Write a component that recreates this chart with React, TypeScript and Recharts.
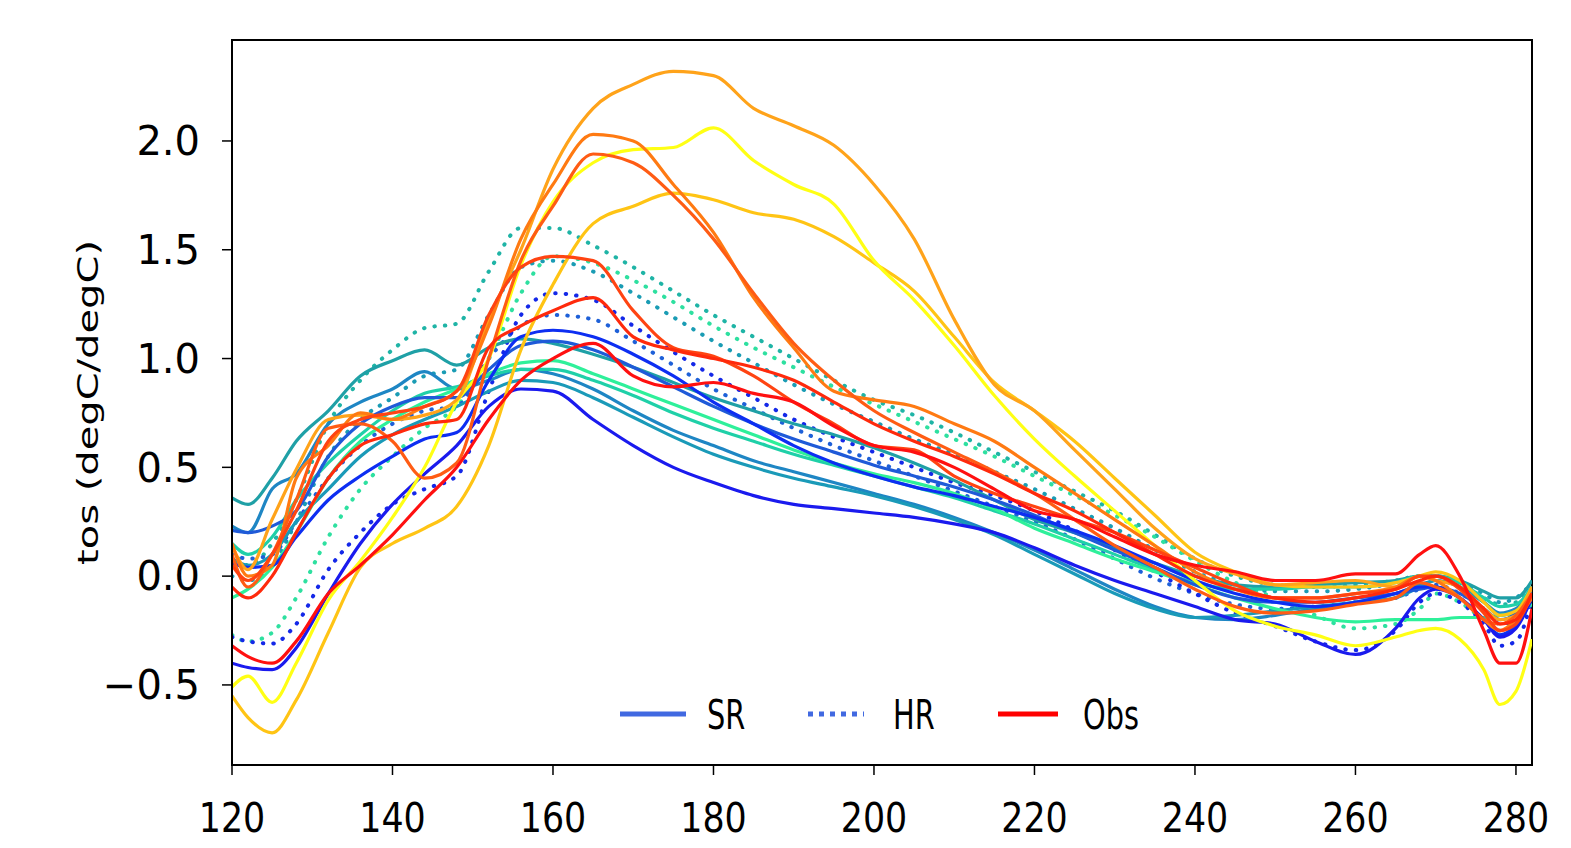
import React from 'react';
import { LineChart, Line, XAxis, YAxis, Legend, ReferenceArea } from 'recharts';

// longitude samples shared by every curve
const XS = [120, 122, 125, 128, 132, 136, 140, 144, 148, 152, 156, 160, 165, 170, 175, 180, 185, 190, 195, 200, 205, 210, 215, 220, 225, 230, 235, 240, 245, 250, 255, 260, 265, 268, 270, 273, 276, 278, 280, 282];
const X_TICKS = [120, 140, 160, 180, 200, 220, 240, 260, 280];
const Y_TICKS = [-0.5, 0, 0.5, 1, 1.5, 2];
const LEGEND_LABELS = ['SR', 'HR', 'Obs'];

// SR (solid, cool colours)
const srBlue = [-0.4, -0.42, -0.43, -0.33, -0.08, 0.15, 0.33, 0.47, 0.6, 0.78, 0.86, 0.85, 0.72, 0.6, 0.5, 0.43, 0.37, 0.33, 0.31, 0.29, 0.27, 0.24, 0.2, 0.13, 0.05, -0.02, -0.08, -0.14, -0.2, -0.22, -0.3, -0.36, -0.24, -0.1, -0.06, -0.1, -0.2, -0.28, -0.24, -0.1];
const srBlueHigh = [0.06, 0.04, 0.05, 0.18, 0.35, 0.46, 0.55, 0.63, 0.66, 0.9, 1.1, 1.13, 1.1, 1.02, 0.92, 0.8, 0.7, 0.6, 0.52, 0.46, 0.41, 0.37, 0.32, 0.27, 0.21, 0.14, 0.06, -0.02, -0.08, -0.12, -0.14, -0.12, -0.08, -0.05, -0.05, -0.1, -0.2, -0.27, -0.22, -0.08];
const srRoyal = [0.21, 0.2, 0.23, 0.3, 0.55, 0.7, 0.78, 0.82, 0.82, 0.95, 1.06, 1.08, 1.04, 0.96, 0.87, 0.78, 0.7, 0.63, 0.57, 0.51, 0.46, 0.41, 0.35, 0.28, 0.2, 0.12, 0.04, -0.04, -0.1, -0.12, -0.12, -0.1, -0.08, -0.06, -0.05, -0.08, -0.15, -0.2, -0.17, -0.06];
const srTeal = [0.36, 0.33, 0.45, 0.62, 0.76, 0.92, 0.99, 1.04, 0.97, 1.05, 1.09, 1.07, 1.02, 0.96, 0.89, 0.82, 0.76, 0.7, 0.65, 0.59, 0.52, 0.44, 0.35, 0.26, 0.2, 0.13, 0.06, 0.0, -0.04, -0.05, -0.04, -0.03, -0.02, 0.0, 0.0, -0.02, -0.07, -0.1, -0.1, -0.02];
const srTealBlue = [0.23, 0.2, 0.4, 0.47, 0.7, 0.8, 0.86, 0.94, 0.86, 0.9, 0.95, 0.93, 0.86, 0.76, 0.67, 0.6, 0.53, 0.48, 0.43, 0.38, 0.33, 0.27, 0.2, 0.12, 0.03, -0.06, -0.14, -0.19, -0.2, -0.18, -0.15, -0.12, -0.08, -0.04, -0.02, -0.05, -0.12, -0.17, -0.15, -0.05];
const srTealLow = [0.08, 0.05, 0.1, 0.25, 0.4, 0.55, 0.65, 0.72, 0.78, 0.85, 0.9, 0.89, 0.82, 0.73, 0.64, 0.56, 0.5, 0.45, 0.41, 0.37, 0.32, 0.26, 0.19, 0.1, 0.01, -0.08, -0.15, -0.19, -0.18, -0.16, -0.14, -0.12, -0.1, -0.05, -0.02, -0.05, -0.12, -0.18, -0.16, -0.05];
const srGreen = [-0.1, -0.06, 0.04, 0.2, 0.45, 0.62, 0.72, 0.8, 0.86, 0.93, 0.98, 0.99, 0.93, 0.86, 0.79, 0.72, 0.65, 0.58, 0.52, 0.47, 0.43, 0.38, 0.31, 0.22, 0.15, 0.08, 0.02, -0.04, -0.1, -0.15, -0.19, -0.21, -0.2, -0.2, -0.2, -0.19, -0.19, -0.18, -0.17, -0.13];
const srTurquoise = [0.15, 0.1, 0.18, 0.35, 0.52, 0.65, 0.76, 0.84, 0.87, 0.92, 0.95, 0.95, 0.9, 0.83, 0.75, 0.68, 0.62, 0.56, 0.51, 0.46, 0.41, 0.36, 0.3, 0.24, 0.17, 0.1, 0.03, -0.03, -0.06, -0.06, -0.05, -0.05, -0.03, 0.0, 0.0, -0.03, -0.1, -0.14, -0.13, -0.05];

// HR (dotted, cool colours)
const hrTeal = [0.12, 0.05, 0.15, 0.35, 0.7, 0.9, 1.04, 1.14, 1.16, 1.4, 1.6, 1.6, 1.52, 1.42, 1.31, 1.2, 1.1, 1.0, 0.9, 0.81, 0.74, 0.66, 0.57, 0.48, 0.39, 0.3, 0.19, 0.08, 0.0, -0.04, -0.05, -0.04, -0.02, 0.0, 0.0, -0.03, -0.1, -0.13, -0.12, -0.05];
const hrGreen = [-0.27, -0.3, -0.26, -0.1, 0.18, 0.4, 0.55, 0.68, 0.78, 1.0, 1.3, 1.47, 1.44, 1.36, 1.26, 1.15, 1.05, 0.96, 0.87, 0.79, 0.71, 0.63, 0.55, 0.46, 0.37, 0.28, 0.18, 0.07, -0.03, -0.1, -0.18, -0.24, -0.22, -0.15, -0.08, -0.12, -0.2, -0.25, -0.22, -0.12];
const hrBlue = [-0.28, -0.3, -0.31, -0.22, 0.03, 0.2, 0.33, 0.4, 0.46, 0.85, 1.2, 1.3, 1.27, 1.15, 1.03, 0.92, 0.82, 0.72, 0.64, 0.57, 0.5, 0.43, 0.37, 0.3, 0.21, 0.12, 0.02, -0.08, -0.17, -0.23, -0.3, -0.34, -0.25, -0.12, -0.08, -0.12, -0.22, -0.32, -0.3, -0.1];
const hrRoyal = [0.1, 0.08, 0.1, 0.25, 0.45, 0.6, 0.7, 0.76, 0.78, 1.0, 1.15, 1.2, 1.18, 1.08, 0.97, 0.86, 0.77, 0.68, 0.6, 0.53, 0.46, 0.39, 0.32, 0.25, 0.17, 0.08, -0.01, -0.08, -0.13, -0.15, -0.14, -0.12, -0.1, -0.06, -0.04, -0.08, -0.15, -0.22, -0.2, -0.08];
const hrTealLow = [0.0, -0.02, 0.05, 0.25, 0.55, 0.72, 0.82, 0.92, 0.95, 1.2, 1.42, 1.45, 1.4, 1.3, 1.19, 1.08, 0.98, 0.88, 0.79, 0.71, 0.63, 0.56, 0.48, 0.4, 0.31, 0.22, 0.12, 0.02, -0.04, -0.07, -0.07, -0.06, -0.03, 0.0, 0.0, -0.03, -0.08, -0.12, -0.1, -0.03];

// Obs (solid, warm colours)
const obsOrange = [0.14, 0.03, 0.26, 0.49, 0.72, 0.74, 0.72, 0.74, 0.81, 1.18, 1.5, 1.87, 2.15, 2.26, 2.32, 2.3, 2.15, 2.07, 1.98, 1.8, 1.55, 1.18, 0.88, 0.76, 0.58, 0.4, 0.22, 0.08, 0.01, -0.04, -0.03, -0.02, -0.05, 0.0, -0.02, -0.05, -0.15, -0.2, -0.18, -0.05];
const obsDarkOrange = [0.15, 0.0, 0.05, 0.45, 0.6, 0.75, 0.72, 0.78, 0.85, 1.15, 1.55, 1.8, 2.03, 2.0, 1.8, 1.58, 1.28, 1.05, 0.85, 0.81, 0.78, 0.7, 0.62, 0.5, 0.38, 0.26, 0.14, 0.02, -0.06, -0.1, -0.1, -0.08, -0.05, 0.0, -0.02, -0.1, -0.2, -0.25, -0.2, -0.1];
const obsOrangeRed = [0.1, -0.05, 0.1, 0.35, 0.68, 0.7, 0.62, 0.45, 0.52, 1.0, 1.45, 1.7, 1.94, 1.9, 1.75, 1.55, 1.3, 1.07, 0.9, 0.76, 0.66, 0.57, 0.48, 0.38, 0.26, 0.14, 0.04, -0.06, -0.14, -0.17, -0.16, -0.13, -0.1, -0.03, -0.05, -0.1, -0.2, -0.22, -0.18, -0.08];
const obsYellow = [-0.51, -0.46, -0.58, -0.4, -0.11, 0.07, 0.27, 0.5, 0.8, 1.0, 1.43, 1.72, 1.9, 1.96, 1.97, 2.06, 1.91, 1.8, 1.71, 1.45, 1.27, 1.06, 0.83, 0.63, 0.46, 0.3, 0.14, -0.02, -0.16, -0.23, -0.27, -0.32, -0.28, -0.25, -0.24, -0.29, -0.43, -0.59, -0.53, -0.29];
const obsGold = [-0.55, -0.65, -0.72, -0.57, -0.26, 0.04, 0.15, 0.22, 0.32, 0.6, 1.04, 1.34, 1.62, 1.7, 1.76, 1.73, 1.67, 1.64, 1.56, 1.44, 1.31, 1.1, 0.89, 0.76, 0.62, 0.45, 0.28, 0.11, 0.02, -0.04, -0.05, -0.05, -0.03, 0.0, 0.02, -0.02, -0.12, -0.18, -0.16, -0.05];
const obsRed = [-0.32, -0.37, -0.4, -0.3, -0.08, 0.05, 0.19, 0.35, 0.5, 0.72, 0.9, 1.0, 1.07, 0.92, 0.87, 0.89, 0.84, 0.8, 0.69, 0.6, 0.57, 0.5, 0.4, 0.3, 0.26, 0.18, 0.1, 0.05, 0.02, -0.02, -0.02, 0.01, 0.01, 0.1, 0.14, 0.0, -0.25, -0.4, -0.4, -0.15];
const obsRedOrange = [0.05, -0.02, 0.1, 0.3, 0.62, 0.72, 0.75, 0.78, 0.85, 1.2, 1.42, 1.47, 1.45, 1.22, 1.05, 1.01, 0.92, 0.8, 0.7, 0.6, 0.58, 0.46, 0.38, 0.32, 0.26, 0.2, 0.12, 0.04, -0.04, -0.1, -0.1, -0.08, -0.06, 0.0, 0.0, -0.06, -0.17, -0.25, -0.22, -0.08];
const obsCrimson = [-0.05, -0.1, 0.0, 0.2, 0.45, 0.6, 0.65, 0.7, 0.72, 1.05, 1.15, 1.22, 1.28, 1.1, 1.04, 1.0, 0.96, 0.9, 0.8, 0.7, 0.62, 0.55, 0.47, 0.38, 0.3, 0.2, 0.1, 0.0, -0.06, -0.1, -0.12, -0.1, -0.06, -0.02, 0.0, -0.05, -0.15, -0.22, -0.2, -0.08];

const SERIES = [
  { key: 'hrTeal', values: hrTeal, color: '#1fb4a6', dotted: true },
  { key: 'hrGreen', values: hrGreen, color: '#2ee0a0', dotted: true },
  { key: 'hrTealLow', values: hrTealLow, color: '#1a9cb4', dotted: true },
  { key: 'hrRoyal', values: hrRoyal, color: '#1e60d8', dotted: true },
  { key: 'hrBlue', values: hrBlue, color: '#1428e8', dotted: true },
  { key: 'srTeal', values: srTeal, color: '#1fa0a6', dotted: false },
  { key: 'srTealBlue', values: srTealBlue, color: '#1e86c4', dotted: false },
  { key: 'srTealLow', values: srTealLow, color: '#1a9ab8', dotted: false },
  { key: 'srTurquoise', values: srTurquoise, color: '#1fd0a8', dotted: false },
  { key: 'srGreen', values: srGreen, color: '#2ef09a', dotted: false },
  { key: 'srRoyal', values: srRoyal, color: '#1f5ad8', dotted: false },
  { key: 'srBlueHigh', values: srBlueHigh, color: '#0d2ef2', dotted: false },
  { key: 'srBlue', values: srBlue, color: '#1a1aee', dotted: false },
  { key: 'obsGold', values: obsGold, color: '#ffc414', dotted: false },
  { key: 'obsYellow', values: obsYellow, color: '#ffff14', dotted: false },
  { key: 'obsOrange', values: obsOrange, color: '#ffa31a', dotted: false },
  { key: 'obsDarkOrange', values: obsDarkOrange, color: '#ff7a12', dotted: false },
  { key: 'obsOrangeRed', values: obsOrangeRed, color: '#ff5c14', dotted: false },
  { key: 'obsRedOrange', values: obsRedOrange, color: '#ff4412', dotted: false },
  { key: 'obsCrimson', values: obsCrimson, color: '#ff2a0c', dotted: false },
  { key: 'obsRed', values: obsRed, color: '#ff1010', dotted: false },
];

const data = XS.map((x, i) => {
  const row: Record<string, number> = { x };
  SERIES.forEach((s) => {
    row[s.key] = s.values[i];
  });
  return row;
});

const FONT = 'DejaVu Sans';
const SQUEEZE = 0.72;

const fmtY = (v: number) => (v < 0 ? '\u2212' + Math.abs(v).toFixed(1) : v.toFixed(1));

function XTick({ x, y, payload }: any) {
  return (
    <text transform={`translate(${x},${y}) scale(0.85,1)`} textAnchor="middle" dy="0.71em" fontSize={41} fontFamily={FONT} fill="#000">
      {payload.value}
    </text>
  );
}

function YTick({ x, y, payload }: any) {
  return (
    <text x={x} y={y} textAnchor="end" dy="0.355em" fontSize={40} fontFamily={FONT} fill="#000">
      {fmtY(payload.value)}
    </text>
  );
}

function LegendBox() {
  const ty = 40.6;
  return (
    <svg width={560} height={52}>
      <line x1={12} x2={78} y1={26} y2={26} stroke="#4169e1" strokeWidth={5} />
      <text transform={`translate(99,${ty}) scale(${SQUEEZE},1)`} fontSize={40} fontFamily={FONT}>{LEGEND_LABELS[0]}</text>
      <line x1={200} x2={256} y1={26} y2={26} stroke="#4169e1" strokeWidth={5} strokeDasharray="5 6" />
      <text transform={`translate(285,${ty}) scale(${SQUEEZE},1)`} fontSize={40} fontFamily={FONT}>{LEGEND_LABELS[1]}</text>
      <line x1={390} x2={450} y1={26} y2={26} stroke="#ff0000" strokeWidth={5} />
      <text transform={`translate(475,${ty}) scale(${SQUEEZE},1)`} fontSize={40} fontFamily={FONT}>{LEGEND_LABELS[2]}</text>
    </svg>
  );
}

export default function App() {
  return (
    <div style={{ position: 'relative', width: 1555, height: 840 }}>
      <LineChart width={1555} height={840} data={data} margin={{ top: 32, right: 31, bottom: 8, left: 0 }}>
        <XAxis
          dataKey="x"
          type="number"
          domain={[120, 282]}
          ticks={X_TICKS}
          allowDataOverflow
          height={75}
          tickSize={10}
          tickMargin={28}
          tick={<XTick />}
          axisLine={{ stroke: '#000', strokeWidth: 2 }}
          tickLine={{ stroke: '#000', strokeWidth: 1.5 }}
        />
        <YAxis
          type="number"
          domain={[-0.868, 2.464]}
          ticks={Y_TICKS}
          allowDataOverflow
          width={224}
          tickSize={10}
          tickMargin={22}
          tick={<YTick />}
          axisLine={{ stroke: '#000', strokeWidth: 2 }}
          tickLine={{ stroke: '#000', strokeWidth: 1.5 }}
          label={() => (
            <text
              transform={`translate(80,394.5) scale(${SQUEEZE},1) rotate(-90)`}
              textAnchor="middle"
              dominantBaseline="central"
              fontSize={40}
              fontFamily={FONT}
              fill="#000"
            >
              tos (degC/degC)
            </text>
          )}
        />
        <Legend
          layout="vertical"
          align="center"
          verticalAlign="middle"
          wrapperStyle={{ left: 600, top: 680, width: 560, height: 52 }}
          content={() => <LegendBox />}
        />
        {SERIES.map((s) => (
          <Line
            key={s.key}
            dataKey={s.key}
            type="monotone"
            stroke={s.color}
            strokeWidth={s.dotted ? 4 : 3.2}
            strokeDasharray={s.dotted ? '0.5 10' : undefined}
            strokeLinecap={s.dotted ? 'round' : 'butt'}
            dot={false}
            activeDot={false}
            isAnimationActive={false}
          />
        ))}
        <ReferenceArea x1={120} x2={282} y1={-0.868} y2={2.464} fill="none" stroke="#000" strokeWidth={2} ifOverflow="visible" />
      </LineChart>
    </div>
  );
}
